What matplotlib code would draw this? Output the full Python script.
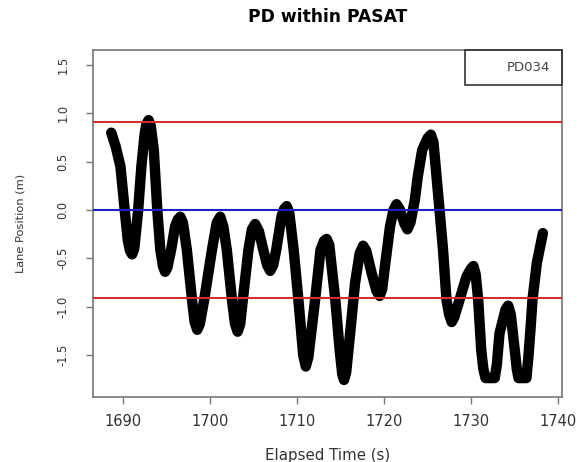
import matplotlib
matplotlib.use("Agg")
import matplotlib.pyplot as plt
from matplotlib.patches import Rectangle

# Data (time in s, lane position in m)
time_s = [1688.6, 1689.1, 1689.66, 1690.15, 1690.5, 1690.75, 1691.0, 1691.25, 1691.7,
          1692.07, 1692.45, 1692.65, 1692.9, 1693.15, 1693.5, 1693.9, 1694.25, 1694.55,
          1694.8, 1695.05, 1695.5, 1695.95, 1696.25, 1696.55, 1696.85, 1697.3, 1697.9,
          1698.2, 1698.5, 1698.8, 1699.3, 1700.2, 1700.75, 1701.15, 1701.5, 1701.9,
          1702.5, 1702.85, 1703.15, 1703.45, 1703.75, 1704.4, 1704.8, 1705.17, 1705.6,
          1706.1, 1706.55, 1706.9, 1707.25, 1707.6, 1708.2, 1708.5, 1708.8, 1709.1,
          1709.6, 1710.15, 1710.7, 1711.0, 1711.3, 1712.07, 1712.7, 1713.1, 1713.4,
          1713.7, 1714.4, 1714.9, 1715.2, 1715.4, 1715.65, 1716.1, 1716.67, 1717.2,
          1717.6, 1717.95, 1718.6, 1719.15, 1719.5, 1719.8, 1720.1, 1720.7, 1721.1,
          1721.45, 1721.8, 1722.35, 1722.7, 1723.05, 1723.55, 1723.9, 1724.4, 1725.0,
          1725.4, 1725.7, 1726.4, 1726.8, 1727.2, 1727.5, 1727.8, 1728.1, 1728.7,
          1729.5, 1730.0, 1730.3, 1730.55, 1730.85, 1731.2, 1731.45, 1731.7, 1732.75,
          1733.0, 1733.3, 1734.0, 1734.3, 1734.6, 1735.06, 1735.3, 1735.5, 1736.4,
          1736.65, 1736.9, 1737.1, 1737.6, 1738.3]
lane_pos = [0.80, 0.66, 0.45, 0.00, -0.31, -0.42, -0.46, -0.40, 0.00,
            0.45, 0.79, 0.89, 0.93, 0.87, 0.62, 0.00, -0.41, -0.58,
            -0.64, -0.60, -0.41, -0.17, -0.10, -0.07, -0.13, -0.41, -0.93,
            -1.16, -1.24, -1.18, -0.93, -0.41, -0.13, -0.07, -0.17, -0.41,
            -0.93, -1.18, -1.26, -1.18, -0.93, -0.41, -0.20, -0.145, -0.22,
            -0.41, -0.57, -0.63, -0.57, -0.41, -0.07, 0.01, 0.04, -0.03,
            -0.41, -0.93, -1.50, -1.62, -1.52, -0.93, -0.41, -0.32, -0.30,
            -0.36, -0.93, -1.45, -1.70, -1.76, -1.68, -1.28, -0.76, -0.45,
            -0.37, -0.42, -0.66, -0.84, -0.89, -0.82, -0.59, -0.17, 0.00,
            0.06, 0.01, -0.14, -0.20, -0.13, 0.10, 0.35, 0.62, 0.74,
            0.78, 0.70, 0.00, -0.41, -0.93, -1.08, -1.16, -1.11, -0.93,
            -0.69, -0.61, -0.58, -0.66, -0.93, -1.45, -1.65, -1.74, -1.74,
            -1.60, -1.28, -1.03, -0.99, -1.08, -1.45, -1.65, -1.74, -1.74,
            -1.50, -1.20, -0.93, -0.55, -0.24]

threshold_hi = 0.91
threshold_lo = -0.91
centre_line = 0.0

x_ticks = [1690, 1700, 1710, 1720, 1730, 1740]
y_ticks = [-1.5, -1.0, -0.5, 0.0, 0.5, 1.0, 1.5]
y_tick_labels = ["-1.5", "-1.0", "-0.5", "0.0", "0.5", "1.0", "1.5"]
participant = "PD034"

fig = plt.figure(figsize=(5.77, 4.62), dpi=100)
ax = fig.add_axes([0.1612, 0.1407, 0.8128, 0.7511])

ax.plot(time_s, lane_pos, color="black", lw=7.5, solid_joinstyle="round",
        solid_capstyle="round", zorder=3)

ax.axhline(threshold_hi, color="#d03030", lw=1.5, zorder=4)
ax.axhline(threshold_lo, color="#d03030", lw=1.5, zorder=4)
ax.axhline(centre_line, color="#2020c0", lw=1.5, zorder=4)

ax.set_xlim(1686.5, 1740.5)
ax.set_ylim(-1.936, 1.656)

for s in ax.spines.values():
    s.set_color("#777777")
    s.set_linewidth(1.2)

ax.set_xticks(x_ticks)
ax.set_xticklabels([str(v) for v in x_ticks], fontsize=10.5, color="#333333")
ax.set_yticks(y_ticks)
ax.set_yticklabels(y_tick_labels, fontsize=8.3, color="#333333",
                   rotation=90, va="center", ha="right")
ax.tick_params(axis="x", length=5, width=1, color="#777777", pad=7)
ax.tick_params(axis="y", length=5, width=1, color="#777777", pad=12)

ax.set_xlabel("Elapsed Time (s)", fontsize=10.8, color="#333333", labelpad=14)
ax.set_ylabel("Lane Position (m)", fontsize=8.2, color="#333333", labelpad=22)
ax.set_title("PD within PASAT", fontsize=12.3, fontweight="bold", pad=20)

# legend box
ax.add_patch(Rectangle((0.793, 0.899), 0.207, 0.101, transform=ax.transAxes,
                       fill=False, edgecolor="#333333", lw=1.2, zorder=5,
                       clip_on=False))
ax.text(0.975, 0.9495, participant, transform=ax.transAxes, ha="right",
        va="center", fontsize=9.5, color="#444444", zorder=6)

fig.savefig("out.png", dpi=100)
